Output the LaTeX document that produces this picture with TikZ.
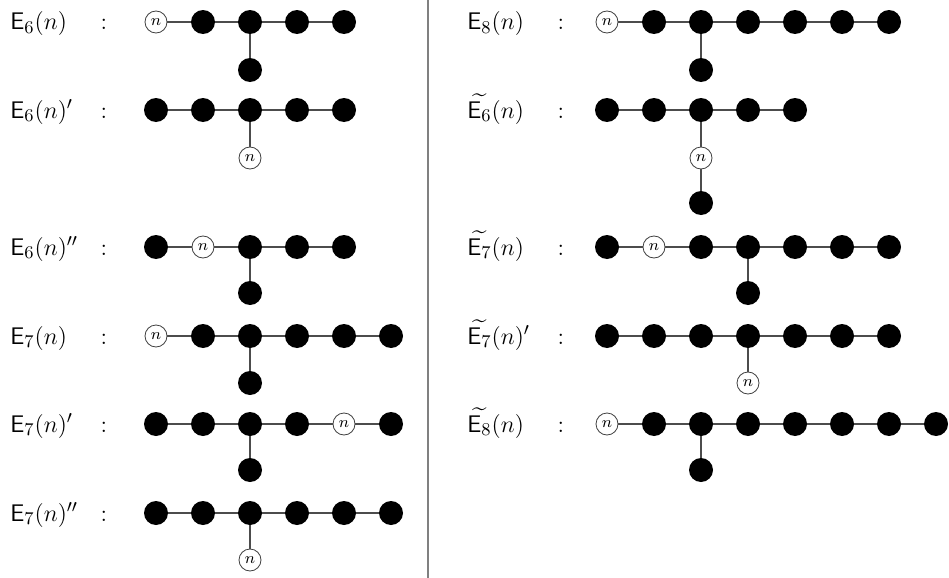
\documentclass[tikz,border=0pt]{standalone}
\usepackage{amsmath,amssymb}

\tikzset{
  bn/.style={circle,fill=black,inner sep=0pt,minimum size=12pt},
  wn/.style={circle,draw=black!75,fill=white,line width=0.4pt,inner sep=0pt,
    minimum size=11pt,font=\fontsize{8}{9}\selectfont,execute at begin node={$n$}},
  bond/.style={draw=black!70,line width=0.6pt},
  lbl/.style={anchor=base west,inner sep=0pt,font=\fontsize{13}{15}\selectfont},
  colon/.style={anchor=base,inner sep=0pt,font=\fontsize{13}{15}\selectfont}
}

\begin{document}
\begin{tikzpicture}[x=0.5pt,y=-0.5pt]
    \useasboundingbox (0,0) rectangle (949,578);
    \coordinate (DivTop) at (427.5,0);
    \coordinate (DivBot) at (427.5,578);
    \draw [gray, line width=1pt] (DivTop) -- (DivBot);% Split the two columns

    % Names of the diagrams
    \foreach \r/\x/\y/\txt in {E6/10/22/{$\mathsf{E}_6(n)$},
        E6p/10/110/{$\mathsf{E}_6(n)'$},
        E6pp/10/247/{$\mathsf{E}_6(n)''$},
        E7/10/336/{$\mathsf{E}_7(n)$},
        E7p/10/424/{$\mathsf{E}_7(n)'$},
        E7pp/10/513/{$\mathsf{E}_7(n)''$},
        E8/467/22/{$\mathsf{E}_8(n)$},
        tE6/467/110/{$\widetilde{\mathsf{E}_6}(n)$},
        tE7/467/247/{$\widetilde{\mathsf{E}_7}(n)$},
        tE7p/467/336/{$\widetilde{\mathsf{E}_7}(n)'$},
        tE8/467/424/{$\widetilde{\mathsf{E}_8}(n)$}}{%
        \node [lbl] (\r-name) at (\x,\y+8) {\txt};
        \node [colon] (\r-colon) at (\x+94,\y+8) {$:$};
    }

    % Main chains, one node every 47
    \foreach \r/\xo/\y/\types in {E6/156/22/{wn,bn,bn,bn,bn},
        E6p/156/110/{bn,bn,bn,bn,bn},
        E6pp/156/247/{bn,wn,bn,bn,bn},
        E7/156/336/{wn,bn,bn,bn,bn,bn},
        E7p/156/424/{bn,bn,bn,bn,wn,bn},
        E7pp/156/513/{bn,bn,bn,bn,bn,bn},
        E8/607/22/{wn,bn,bn,bn,bn,bn,bn},
        tE6/607/110/{bn,bn,bn,bn,bn},
        tE7/607/247/{bn,wn,bn,bn,bn,bn,bn},
        tE7p/607/336/{bn,bn,bn,bn,bn,bn,bn},
        tE8/607/424/{wn,bn,bn,bn,bn,bn,bn,bn}}{%
        \foreach \t [count=\i, remember=\i as \j (initially 0)] in \types {%
            \node [\t] (\r-\i) at ({\xo+47*(\i-1)},\y) {};
            \ifnum\i>1 \draw [bond] (\r-\j) -- (\r-\i); \fi
        }
    }

    % Branch nodes below the chains
    \foreach \r/\k/\t/\x/\y in {E6/3/bn/250/70, E6p/3/wn/250/158,
        E6pp/3/bn/250/293, E7/3/bn/250/383, E7p/3/bn/250/470,
        E7pp/3/wn/250/560, E8/3/bn/701/70, tE6/3/wn/701/158,
        tE7/4/bn/748/293, tE7p/4/wn/748/383, tE8/3/bn/701/470}{%
        \node [\t] (\r-s) at (\x,\y) {};
        \draw [bond] (\r-\k) -- (\r-s);
    }
    \node [bn] (tE6-t) at (701,203) {};
    \draw [bond] (tE6-s) -- (tE6-t);
\end{tikzpicture}
\end{document}
